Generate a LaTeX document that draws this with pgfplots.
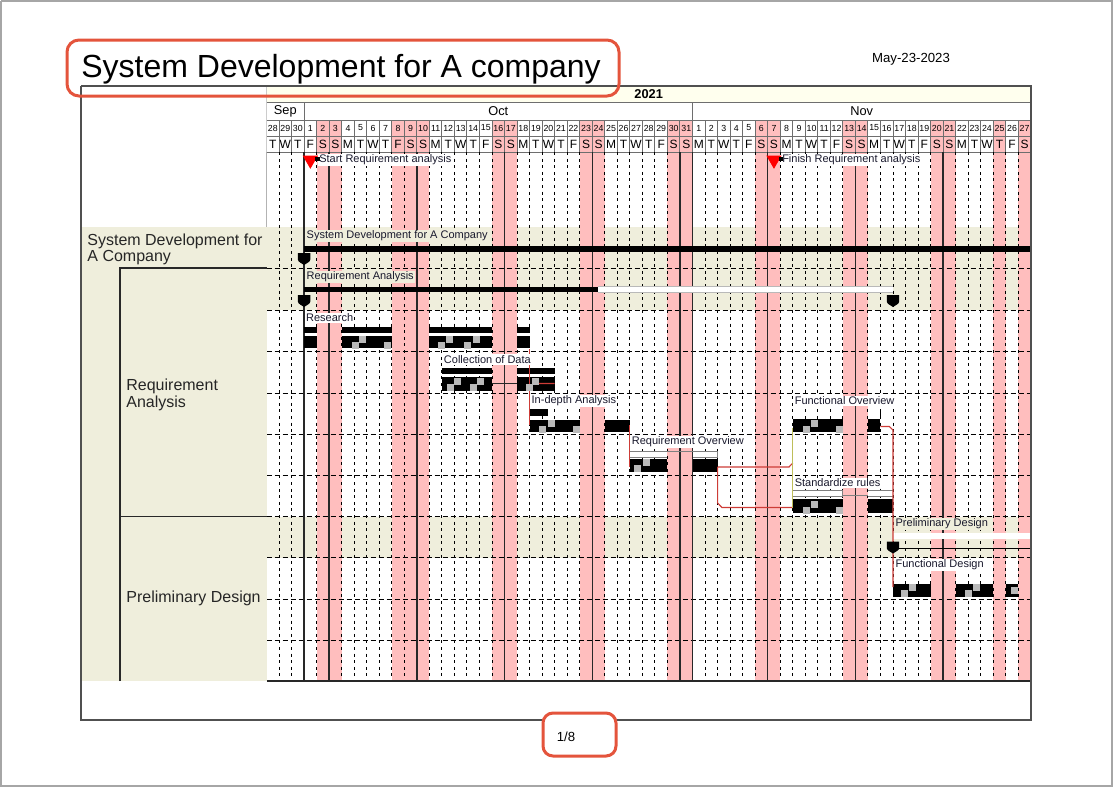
\documentclass[border=0pt]{standalone}
\usepackage{pgfplots}
\pgfplotsset{compat=1.18}
\usepackage{pgfplotstable}
\usepackage{fontspec}
\setmainfont{Liberation Sans}
\definecolor{pinkc}{RGB}{255,190,190}
\definecolor{creamc}{RGB}{239,238,220}
\definecolor{yearc}{RGB}{255,255,238}
\definecolor{gridc}{RGB}{110,110,110}
\definecolor{linec}{RGB}{40,40,40}
\definecolor{redc}{RGB}{205,60,55}
\definecolor{boxc}{RGB}{228,84,60}
\definecolor{labc}{RGB}{25,25,45}
\definecolor{olivec}{RGB}{190,190,90}
\definecolor{framec}{RGB}{80,80,80}
\newcommand\titf{\fontsize{16}{18}\selectfont}
\newcommand\labf{\fontsize{5.5}{6.5}\selectfont}
\newcommand\leftf{\fontsize{8}{9.6}\selectfont}
\newcommand\numf{\fontsize{4.4}{5}\selectfont}
\newcommand\wdf{\fontsize{6}{7}\selectfont}
\newcommand\monf{\fontsize{6.4}{7.5}\selectfont}
\newcommand\datef{\fontsize{6.6}{7.5}\selectfont}
\tikzset{lab/.style={anchor=west, font=\labf, inner sep=0.5pt, text=labc}}
\pgfdeclareplotmark{shield}{%
\pgfpathmoveto{\pgfqpoint{-3.1pt}{3pt}}%
\pgfpathlineto{\pgfqpoint{3.1pt}{3pt}}%
\pgfpathlineto{\pgfqpoint{3.1pt}{-0.3pt}}%
\pgfpathcurveto{\pgfqpoint{3.1pt}{-1.5pt}}{\pgfqpoint{1pt}{-2.2pt}}{\pgfqpoint{0pt}{-3pt}}%
\pgfpathcurveto{\pgfqpoint{-1pt}{-2.2pt}}{\pgfqpoint{-3.1pt}{-1.5pt}}{\pgfqpoint{-3.1pt}{-0.3pt}}%
\pgfpathclose
\pgfusepathqfill}

\pgfplotstableread{
x num wd
0.5 28 T
1.5 29 W
2.5 30 T
3.5 1 F
4.5 2 S
5.5 3 S
6.5 4 M
7.5 5 T
8.5 6 W
9.5 7 T
10.5 8 F
11.5 9 S
12.5 10 S
13.5 11 M
14.5 12 T
15.5 13 W
16.5 14 T
17.5 15 F
18.5 16 S
19.5 17 S
20.5 18 M
21.5 19 T
22.5 20 W
23.5 21 T
24.5 22 F
25.5 23 S
26.5 24 S
27.5 25 M
28.5 26 T
29.5 27 W
30.5 28 T
31.5 29 F
32.5 30 S
33.5 31 S
34.5 1 M
35.5 2 T
36.5 3 W
37.5 4 T
38.5 5 F
39.5 6 S
40.5 7 S
41.5 8 M
42.5 9 T
43.5 10 W
44.5 11 T
45.5 12 F
46.5 13 S
47.5 14 S
48.5 15 M
49.5 16 T
50.5 17 W
51.5 18 T
52.5 19 F
53.5 20 S
54.5 21 S
55.5 22 M
56.5 23 T
57.5 24 W
58.5 25 T
59.5 26 F
60.5 27 S
}\daytab

\begin{document}
\begin{tikzpicture}
% ---------------- chart (x in days from Sep 28, y in pixels) ----------------
\begin{axis}[at={(133.25pt,-43pt)}, anchor=north west,
  x=6.265pt, y=0.5pt, y dir=reverse,
  xmin=0, xmax=61, ymin=86, ymax=681,
  hide axis, enlargelimits=false, unbounded coords=jump]
% backgrounds
\addplot[yearc, line width=8pt] coordinates {(0,94) (61,94)};
\addplot[creamc, line width=41.5pt] coordinates {(0,268.5) (61,268.5)};
\addplot[creamc, line width=20.5pt] coordinates {(0,537) (61,537)};
% holidays / weekends
\pgfplotsinvokeforeach{4.5,5.5,10.5,11.5,12.5,18.5,19.5,25.5,26.5,32.5,33.5,39.5,40.5,46.5,47.5,53.5,54.5,58.5,60.5}{
  \addplot[pinkc, line width=6.3pt] coordinates {(#1,120) (#1,681)};}
% header grid
\pgfplotsinvokeforeach{102,120,136,152}{
  \addplot[gridc, line width=0.5pt] coordinates {(0,#1) (61,#1)};}
\addplot[framec, line width=0.9pt] coordinates {(0,86) (61,86)};
\pgfplotsinvokeforeach{0,...,61}{
  \addplot[gridc, line width=0.5pt] coordinates {(#1,120) (#1,152)};}
\pgfplotsinvokeforeach{0,3,34}{
  \addplot[gridc, line width=0.5pt] coordinates {(#1,102) (#1,120)};}
\addplot[gridc, line width=0.5pt] coordinates {(0,86) (0,102)};
% body grid
\pgfplotsinvokeforeach{1,2,4,6,7,8,9,10,11,13,14,15,16,17,18,20,21,22,23,24,25,27,28,29,30,31,32,35,36,37,38,39,41,42,43,44,45,46,48,49,50,51,52,53,55,56,57,58,59,60}{
  \addplot[black, line width=0.5pt, dash pattern=on 1.5pt off 1.8pt] coordinates {(#1,152) (#1,681)};}
\pgfplotsinvokeforeach{268,310,351.5,393,434,475.5,516.5,557.5,599,640}{
  \addplot[black, line width=0.5pt, dash pattern=on 2.5pt off 1.5pt] coordinates {(0,#1) (61,#1)};}
\pgfplotsinvokeforeach{0,3,5,12,19,26,33,34,40,47,54}{
  \addplot[linec, line width=0.75pt] coordinates {(#1,152) (#1,681)};}
\addplot[linec, line width=0.75pt] coordinates {(0,681) (61,681)};
% ---- bars ----
% System Development for A Company (summary)
\addplot[black, line width=3pt] coordinates {(3,249) (61,249)};
% Requirement Analysis (summary)
\addplot[black, line width=2.6pt] coordinates {(3,289.5) (26.45,289.5)};
\addplot[gray!55, line width=3.4pt] coordinates {(26.45,289.8) (50,289.8)};
\addplot[white, line width=2.6pt] coordinates {(26.45,289.5) (49.96,289.5)};
% Research
\addplot[black, line width=3pt] table[row sep=\\] {x y\\ 3 330\\ 4 330\\ nan nan\\ 6 330\\ 10 330\\ nan nan\\ 13 330\\ 18 330\\ nan nan\\ 20 330\\ 21 330\\};
\addplot[black, line width=6.2pt] table[row sep=\\] {x y\\ 3 342\\ 4 342\\ nan nan\\ 6 342\\ 10 342\\ nan nan\\ 13 342\\ 18 342\\ nan nan\\ 20 342\\ 21 342\\};
% Collection of Data
\addplot[linec, line width=0.5pt] coordinates {(18,383.5) (20,383.5)};
\addplot[black, line width=3pt] table[row sep=\\] {x y\\ 14 371\\ 18 371\\ nan nan\\ 20 371\\ 23 371\\};
\addplot[black, line width=7pt] table[row sep=\\] {x y\\ 14 384\\ 18 384\\ nan nan\\ 20 384\\ 23 384\\};
% In-depth Analysis
\addplot[black, line width=3.4pt] coordinates {(21,412.5) (22.5,412.5)};
\addplot[black, line width=6.2pt] table[row sep=\\] {x y\\ 21 426\\ 25 426\\ nan nan\\ 27 426\\ 29 426\\};
% Requirement Overview
\addplot[gray, line width=0.5pt] coordinates {(32,451.5) (34,451.5)};
\addplot[gray, line width=3.5pt] table[row sep=\\] {x y\\ 29 454\\ 32 454\\ nan nan\\ 34 454\\ 36 454\\};
\addplot[white, line width=2.5pt] table[row sep=\\] {x y\\ 29.04 454\\ 31.96 454\\ nan nan\\ 34.04 454\\ 35.96 454\\};
\addplot[black, line width=6.5pt] table[row sep=\\] {x y\\ 29 465.5\\ 32 465.5\\ nan nan\\ 34 465.5\\ 36 465.5\\};
% Functional Overview
\addplot[black, line width=0.6pt] coordinates {(49,410) (49,416)};
\addplot[black, line width=6.5pt] table[row sep=\\] {x y\\ 42 425.5\\ 46 425.5\\ nan nan\\ 48 425.5\\ 49 425.5\\};
% Standardize rules
\addplot[gray, line width=0.5pt] coordinates {(46,495.5) (48,495.5)};
\addplot[gray, line width=3.5pt] table[row sep=\\] {x y\\ 42 493.5\\ 46 493.5\\ nan nan\\ 48 493.5\\ 50 493.5\\};
\addplot[white, line width=2.5pt] table[row sep=\\] {x y\\ 42.04 493.5\\ 45.96 493.5\\ nan nan\\ 48.04 493.5\\ 49.96 493.5\\};
\addplot[black, line width=7pt] table[row sep=\\] {x y\\ 42 505.5\\ 46 505.5\\ nan nan\\ 48 505.5\\ 50 505.5\\};
% Preliminary Design (summary)
\addplot[white, line width=3pt] coordinates {(50,536) (61,536)};
\addplot[black, line width=0.5pt] coordinates {(50,548.5) (61,548.5)};
% Functional Design
\addplot[black, line width=6.5pt] table[row sep=\\] {x y\\ 50 590.5\\ 53 590.5\\ nan nan\\ 55 590.5\\ 58 590.5\\ nan nan\\ 59 590.5\\ 60 590.5\\};
% progress texture
\addplot[only marks, mark=square*, mark size=1.5pt, color=gray!55] coordinates {
 (7.06,345) (7.62,339) (9.62,345) (13.93,345) (14.56,339) (16.0,345) (16.72,339)
 (14.64,387) (15.2,381) (16.48,387) (17.04,381) (20.95,387) (21.43,381)
 (21.99,429) (22.7,423) (24.7,429)
 (29.57,468) (30.3,462)
 (43.06,429) (43.7,423) (45.7,429)
 (43.06,510) (43.7,504) (45.7,510)
 (50.88,593) (51.52,587) (55.99,593) (56.63,587) (59.66,590)};
% dependency links
\addplot[redc, line width=0.55pt] coordinates {(21,349) (21,425)};
\addplot[redc, line width=0.55pt] coordinates {(23,383.5) (21.3,383.5) (21,387)};
\addplot[redc, line width=0.55pt] coordinates {(29,425) (29,467)};
\addplot[redc, line width=0.55pt] coordinates {(36,467) (41.7,467) (42,463)};
\addplot[redc, line width=0.55pt] coordinates {(36,467) (36,503) (36.35,507.5) (42,507.5)};
\addplot[olivec, line width=0.6pt] coordinates {(42,428) (42,507.5)};
\addplot[redc, line width=0.55pt] coordinates {(49,426.5) (49.7,426.5) (50,430) (50,587)};
% summary markers
\addplot[only marks, mark=shield, black] coordinates {(3,259) (3,301) (50,301) (50,547.5)};
% milestones
\addplot[only marks, mark=triangle*, mark size=4pt, color=red, mark options={rotate=180}] coordinates {(3.5,160) (40.5,160)};
\addplot[only marks, mark=square*, mark size=0.9pt, black] coordinates {(4.05,159) (41.05,159)};
% header text
\node[font=\monf\bfseries] at (axis cs:30.5,94) {2021};
\node[font=\monf] at (axis cs:1.5,111) {Sep};
\node[font=\monf] at (axis cs:18.5,111) {Oct};
\node[font=\monf] at (axis cs:47.5,111) {Nov};
\addplot[draw=none, point meta=explicit symbolic, nodes near coords,
  every node near coord/.append style={font=\numf, anchor=center, inner sep=0pt}]
  table[x=x, y expr=128, meta=num] {\daytab};
\addplot[draw=none, point meta=explicit symbolic, nodes near coords,
  every node near coord/.append style={font=\wdf, anchor=center, inner sep=0pt}]
  table[x=x, y expr=144, meta=wd] {\daytab};
% task labels
\node[lab, fill=white] at (axis cs:4.1,160) {Start Requirement analysis};
\node[lab, fill=white] at (axis cs:41.05,160) {Finish Requirement analysis};
\node[lab, fill=creamc] at (axis cs:3.1,236) {System Development for A Company};
\node[lab, fill=creamc] at (axis cs:3.1,277) {Requirement Analysis};
\node[lab, fill=white] at (axis cs:3.05,318) {Research};
\node[lab, fill=white] at (axis cs:14.05,359.5) {Collection of Data};
\node[lab, fill=white] at (axis cs:21.05,401) {In-depth Analysis};
\node[lab, fill=white] at (axis cs:29.05,442) {Requirement Overview};
\node[lab, fill=white] at (axis cs:42.05,401) {Functional Overview};
\node[lab, fill=white] at (axis cs:42.05,483) {Standardize rules};
\node[lab, fill=creamc] at (axis cs:50.1,524) {Preliminary Design};
\node[lab, fill=white] at (axis cs:50.1,565) {Functional Design};
\end{axis}
% ---------------- page (pixels) ----------------
\begin{axis}[at={(0pt,0pt)}, anchor=north west,
  x=0.5pt, y=0.5pt, y dir=reverse,
  xmin=0, xmax=1113, ymin=0, ymax=787,
  hide axis, enlargelimits=false, clip=false]
\addplot[gray!70, line width=1pt] coordinates {(1,1) (1112,1) (1112,786) (1,786) (1,1)};
\addplot[creamc, line width=92.25pt] coordinates {(174.25,227) (174.25,681)};
\addplot[linec, line width=0.6pt] coordinates {(120,681) (120,268) (266.5,268)};
\addplot[linec, line width=0.6pt] coordinates {(120,516.5) (266.5,516.5)};
\addplot[framec, line width=0.8pt] coordinates {(81,86) (1031,86) (1031,720) (81,720) (81,86)};
\node[anchor=base west, font=\titf, inner sep=0pt] at (axis cs:81,77) {System Development for A company};
\addplot[boxc, line width=1.5pt, rounded corners=6pt] coordinates {(340,40) (619,40) (619,96) (67,96) (67,40) (340,40)};
\node[font=\datef] at (axis cs:911,59) {May-23-2023};
\addplot[boxc, line width=1.5pt, rounded corners=5pt, fill=white] coordinates {(578,713) (616,713) (616,756) (543,756) (543,713) (578,713)};
\node[font=\datef] at (axis cs:566,737) {1/8};
\node[anchor=west, font=\leftf, text=black!85, inner sep=0pt] at (axis cs:87,241) {System Development for};
\node[anchor=west, font=\leftf, text=black!85, inner sep=0pt] at (axis cs:87,258) {A Company};
\node[anchor=west, font=\leftf, text=black!85, inner sep=0pt] at (axis cs:126,386) {Requirement};
\node[anchor=west, font=\leftf, text=black!85, inner sep=0pt] at (axis cs:126,403) {Analysis};
\node[anchor=west, font=\leftf, text=black!85, inner sep=0pt] at (axis cs:126,598) {Preliminary Design};
\end{axis}
\end{tikzpicture}
\end{document}
